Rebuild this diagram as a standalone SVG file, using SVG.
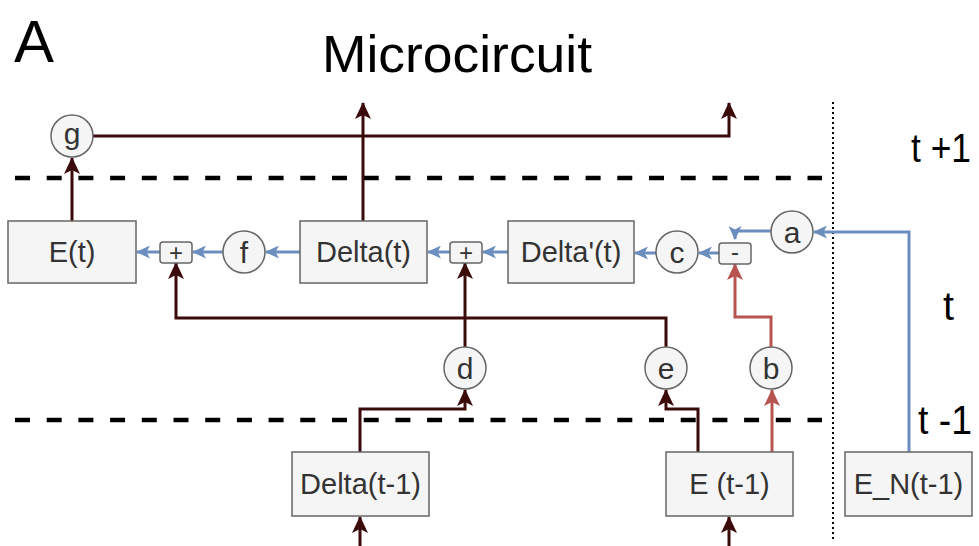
<svg xmlns="http://www.w3.org/2000/svg" width="979" height="546" viewBox="0 0 979 546">
<defs>
<style>
.box{fill:#f5f5f5;stroke:#666;stroke-width:1.5}
.circ{fill:#f5f5f5;stroke:#666;stroke-width:1.5}
.op{fill:#f5f5f5;stroke:#666;stroke-width:1.5}
.lbl{font-family:"Liberation Sans",Arial,sans-serif;font-size:29px;fill:#333;text-anchor:middle}
.clbl{font-family:"Liberation Sans",Arial,sans-serif;font-size:30px;fill:#333;text-anchor:middle}
.oplbl{font-family:"Liberation Sans",Arial,sans-serif;font-size:24px;fill:#333;text-anchor:middle}
.big{font-family:"Liberation Sans",Arial,sans-serif;fill:#000}
.dark{fill:none;stroke:#3b0a0a;stroke-width:3}
.blue{fill:none;stroke:#6c8ebf;stroke-width:3}
.red{fill:none;stroke:#b85450;stroke-width:3}
.dash{stroke:#000;stroke-width:4.5;stroke-dasharray:15 16.7;fill:none}
.dot{stroke:#000;stroke-width:2;stroke-dasharray:2 3;fill:none}
</style>
<marker id="ad" viewBox="0 0 17 16" markerUnits="userSpaceOnUse" markerWidth="17" markerHeight="16" refX="16" refY="8" orient="auto"><path d="M0,0 L17,8 L0,16 L4,8 Z" fill="#3b0a0a"/></marker>
<marker id="ab" viewBox="0 0 14 13" markerUnits="userSpaceOnUse" markerWidth="14" markerHeight="13" refX="13" refY="6.5" orient="auto"><path d="M0,0 L14,6.5 L0,13 L3.5,6.5 Z" fill="#6c8ebf"/></marker>
<marker id="ar" viewBox="0 0 17 16" markerUnits="userSpaceOnUse" markerWidth="17" markerHeight="16" refX="16" refY="8" orient="auto"><path d="M0,0 L17,8 L0,16 L4,8 Z" fill="#b85450"/></marker>
</defs>

<g id="titles">
<text class="big" x="14" y="62" font-size="60" textLength="40" lengthAdjust="spacingAndGlyphs">A</text>
<text class="big" x="322" y="72" font-size="52" textLength="270" lengthAdjust="spacingAndGlyphs">Microcircuit</text>
<text class="big" x="911" y="162" font-size="40" textLength="60" lengthAdjust="spacingAndGlyphs">t +1</text>
<text class="big" x="943" y="320" font-size="40" textLength="11" lengthAdjust="spacingAndGlyphs">t</text>
<text class="big" x="918" y="434" font-size="40" textLength="54" lengthAdjust="spacingAndGlyphs">t -1</text>
</g>

<g id="separators">
<line class="dash" x1="15" y1="178" x2="822" y2="178"/>
<line class="dash" x1="15" y1="420" x2="822" y2="420"/>
<line class="dot" x1="833" y1="102" x2="833" y2="542"/>
</g>

<g id="connectors">
<path class="dark" marker-end="url(#ad)" d="M72,221 V158"/>
<path class="dark" marker-end="url(#ad)" d="M93,136 H729 V103"/>
<path class="dark" marker-end="url(#ad)" d="M363,221 V103"/>
<path class="dark" marker-end="url(#ad)" d="M360,452 V409 H465 V390"/>
<path class="dark" marker-end="url(#ad)" d="M465,347 V263"/>
<path class="dark" marker-end="url(#ad)" d="M698,452 V409 H666 V390"/>
<path class="dark" marker-end="url(#ad)" d="M666,347 V318 H176 V263"/>
<path class="dark" marker-end="url(#ad)" d="M360,546 V517"/>
<path class="dark" marker-end="url(#ad)" d="M729,546 V517"/>
<path class="red" marker-end="url(#ar)" d="M772,452 V390"/>
<path class="red" marker-end="url(#ar)" d="M771,347 V317 H735 V264"/>
<path class="blue" marker-end="url(#ab)" d="M909,452 V232 H814"/>
<path class="blue" marker-end="url(#ab)" d="M771,231 H735 V239"/>
<path class="blue" marker-end="url(#ab)" d="M719,253 H699"/>
<path class="blue" marker-end="url(#ab)" d="M656,253 H635"/>
<path class="blue" marker-end="url(#ab)" d="M508,252 H483"/>
<path class="blue" marker-end="url(#ab)" d="M450,252 H428"/>
<path class="blue" marker-end="url(#ab)" d="M300,252 H266"/>
<path class="blue" marker-end="url(#ab)" d="M223,252 H193"/>
<path class="blue" marker-end="url(#ab)" d="M160,252 H137"/>
</g>

<g id="E_t"><rect class="box" x="8" y="221" width="128" height="62"/><text class="lbl" x="72" y="262">E(t)</text></g>
<g id="Delta_t"><rect class="box" x="300" y="221" width="127" height="62"/><text class="lbl" x="363.5" y="262">Delta(t)</text></g>
<g id="Deltaprime_t"><rect class="box" x="508" y="221" width="126" height="62"/><text class="lbl" x="571" y="262">Delta'(t)</text></g>
<g id="Delta_t1"><rect class="box" x="292" y="452" width="137" height="64"/><text class="lbl" x="360.5" y="494">Delta(t-1)</text></g>
<g id="E_t1"><rect class="box" x="666" y="452" width="127" height="64"/><text class="lbl" x="729.5" y="494">E (t-1)</text></g>
<g id="EN_t1"><rect class="box" x="845" y="452" width="127" height="64"/><text class="lbl" x="908.5" y="494">E_N(t-1)</text></g>

<g id="plus_left"><rect class="op" x="160" y="242" width="32" height="21" rx="3"/><text class="oplbl" x="176" y="261">+</text></g>
<g id="plus_mid"><rect class="op" x="450" y="242" width="32" height="21" rx="3"/><text class="oplbl" x="466" y="261">+</text></g>
<g id="minus"><rect class="op" x="719" y="243" width="32" height="21" rx="3"/><text class="oplbl" x="735" y="260">-</text></g>

<g id="g"><circle class="circ" cx="72" cy="136" r="21"/><text class="clbl" x="72" y="144">g</text></g>
<g id="f"><circle class="circ" cx="244" cy="252" r="21"/><text class="clbl" x="244" y="263">f</text></g>
<g id="c"><circle class="circ" cx="677" cy="252" r="21"/><text class="clbl" x="677" y="263">c</text></g>
<g id="a"><circle class="circ" cx="792" cy="232" r="21"/><text class="clbl" x="792" y="243">a</text></g>
<g id="d"><circle class="circ" cx="465" cy="368" r="21"/><text class="clbl" x="465" y="379">d</text></g>
<g id="e"><circle class="circ" cx="666" cy="368" r="21"/><text class="clbl" x="666" y="379">e</text></g>
<g id="b"><circle class="circ" cx="771" cy="368" r="21"/><text class="clbl" x="771" y="379">b</text></g>
</svg>
